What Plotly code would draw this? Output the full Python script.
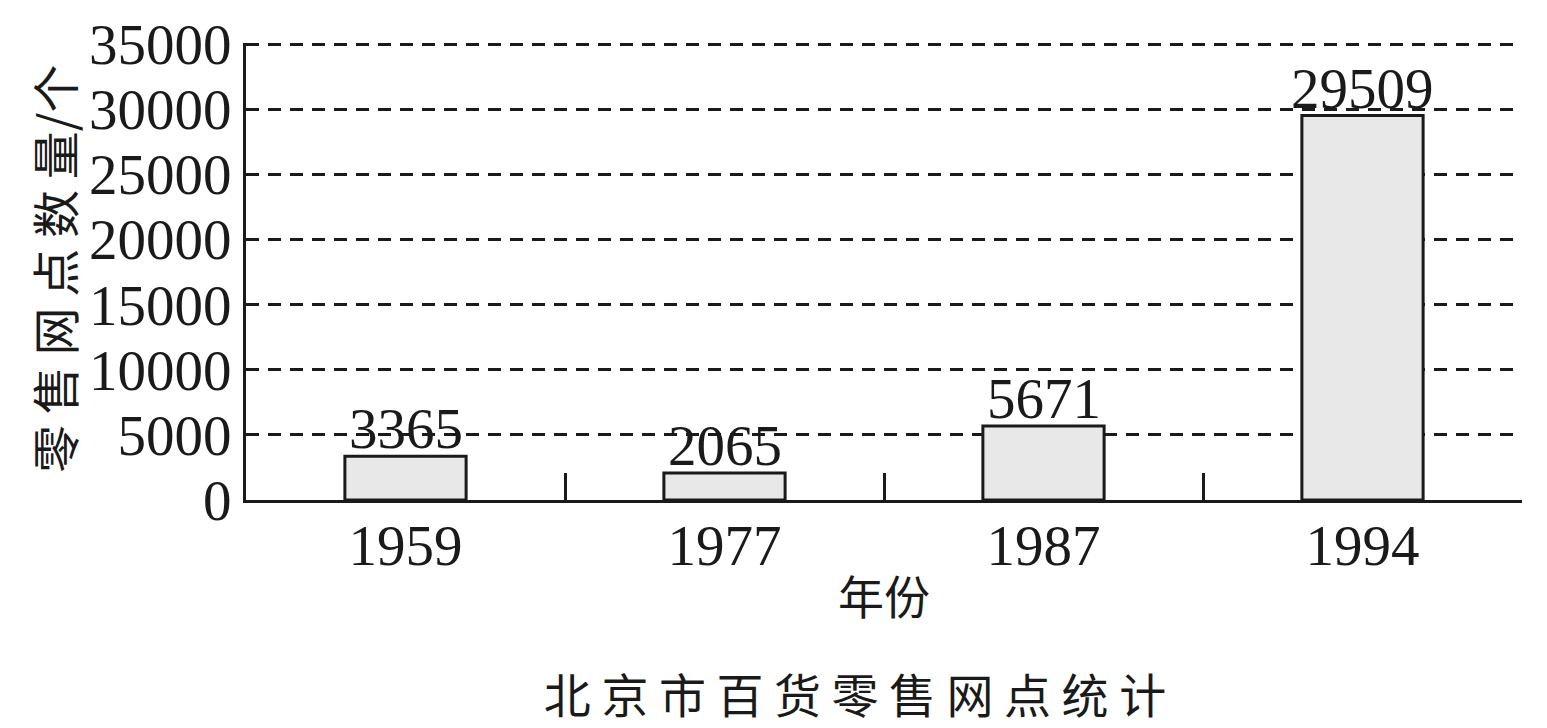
import plotly.graph_objects as go

years = ["1959", "1977", "1987", "1994"]
counts = [3365, 2065, 5671, 29509]
y_ticks = [0, 5000, 10000, 15000, 20000, 25000, 30000, 35000]
title_text = "北 京 市 百 货 零 售 网 点 统 计"
y_title = "零 售 网 点 数 量/个"
x_title = "年份"

SERIF = "Liberation Serif, Times New Roman, serif"
CJK = "Noto Sans CJK SC"

fig = go.Figure()
fig.add_trace(go.Bar(
    x=years, y=counts,
    width=0.38,
    marker=dict(color="#e8e8e8", line=dict(color="#1a1a1a", width=3)),
    hoverinfo="x+y",
))

# value labels: x given as category index on the category axis
value_labels = [
    dict(x=i, y=v, text=str(v), xref="x", yref="y",
         xanchor="center", yanchor="bottom", yshift=-6, showarrow=False,
         font=dict(family=SERIF, size=57, color="#1a1a1a"))
    for i, v in enumerate(counts)
]

fig.update_layout(
    width=1547, height=728,
    margin=dict(l=246, r=25, t=43, b=228, autoexpand=False),
    plot_bgcolor="white", paper_bgcolor="white",
    showlegend=False,
    title=dict(text=title_text, font=dict(family=CJK, size=47, color="#1a1a1a"),
               x=(855 - 246) / 1276, xanchor="center", xref="paper",
               y=1 - 697 / 728, yref="container", yanchor="middle"),
    xaxis=dict(
        type="category",
        categoryarray=years, categoryorder="array",
        range=[-0.5, len(years) - 0.5],
        automargin=False,
        tickson="boundaries",
        ticks="inside", ticklen=27, tickwidth=3, tickcolor="#1a1a1a",
        showline=True, linecolor="#1a1a1a", linewidth=3,
        showgrid=False,
        tickfont=dict(family=SERIF, size=57, color="#1a1a1a"),
        ticklabelstandoff=-6,
        title=dict(text=x_title, font=dict(family=CJK, size=46, color="#1a1a1a"), standoff=6),
    ),
    yaxis=dict(
        automargin=False,
        range=[0, 35080],
        tickvals=y_ticks,
        ticktext=[str(v) for v in y_ticks],
        ticks="",
        showline=True, linecolor="#1a1a1a", linewidth=3,
        showgrid=True, gridcolor="#1a1a1a", gridwidth=2.5, griddash="13px,9px",
        zeroline=False,
        tickfont=dict(family=SERIF, size=57, color="#1a1a1a"),
        ticklabelstandoff=0,
    ),
    annotations=value_labels + [dict(
        text=y_title, textangle=-90,
        xref="paper", yref="paper",
        x=(53 - 246) / 1276, y=(500 - 268) / 457,
        xanchor="center", yanchor="middle",
        showarrow=False,
        font=dict(family=CJK, size=48, color="#1a1a1a"),
    )],
)

fig.write_html("out.html", config={"displayModeBar": False},
               post_script="document.body.style.margin='0';")
